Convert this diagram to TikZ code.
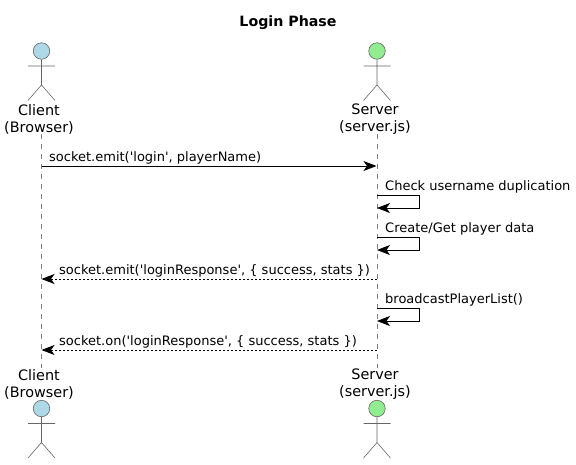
\documentclass[tikz,border=0pt]{standalone}
\usepackage{fontspec}
\setmainfont{DejaVu Sans}[Ligatures=TeXOff]
\usetikzlibrary{arrows.meta}
\definecolor{clientblue}{HTML}{ADD8E6}
\definecolor{serverGreen}{HTML}{90EE90}
\definecolor{figline}{HTML}{666666}
\definecolor{lifegray}{HTML}{808080}
\tikzset{
  actorname/.style={align=center,inner sep=0pt,font=\fontsize{14.4}{17}\selectfont},
  msgtext/.style={anchor=base west,inner sep=0pt,font=\fontsize{13}{14}\selectfont},
  msg/.style={draw=black,line width=.8pt,-{Stealth[length=13pt,width=10pt,inset=3.5pt]}},
  reply/.style={msg,dash pattern=on 2pt off 2pt,-{Stealth[length=13pt,width=10pt,inset=3.5pt,line width=.8pt]}},
  lifeline/.style={draw=lifegray,line width=.6pt,dash pattern=on 5pt off 5pt},
  pics/stickman/.style={code={
    \draw[figline,line width=.6pt] (0,8.5) -- (0,34) (-13.5,15) -- (13.5,15)
      (-13.5,49.5) -- (0,34) -- (13.5,49.5);
    \node[circle,draw=figline,fill=#1,line width=.6pt,minimum size=16.5pt,inner sep=0pt] at (0,0) {};
  }}
}
\begin{document}
\begin{tikzpicture}[x=1pt,y=-1pt]
  \useasboundingbox (0,0) rectangle (576,464);

  \node[inner sep=0pt,font=\fontsize{14.2}{16}\selectfont\bfseries] (title) at (288,23) {Login Phase};

  % top and bottom names
  \node[actorname] (client1) at (39,119) {Client\\(Browser)};
  \node[actorname] (server1) at (375,119) {Server\\(server.js)};
  \node[actorname] (client2) at (39,384) {Client\\(Browser)};
  \node[actorname] (server2) at (375,384) {Server\\(server.js)};

  % figures
  \pic at (41.5,51) {stickman=clientblue};
  \pic at (377,51) {stickman=serverGreen};
  \pic at (41.5,408.5) {stickman=clientblue};
  \pic at (377,408.5) {stickman=serverGreen};

  % lifelines
  \coordinate (ctop) at (41.5,134);
  \coordinate (cbot) at (41.5,368);
  \coordinate (stop) at (377,134);
  \coordinate (sbot) at (377,368);
  \foreach \from/\to in {ctop/cbot, stop/sbot}
    \draw[lifeline] (\from) -- (\to);

  % message ends
  \coordinate (c1) at (41.5,166);
  \coordinate (s1) at (376.5,166);
  \coordinate (s2) at (377,195);
  \coordinate (s3) at (377,208);
  \coordinate (s4) at (377,237);
  \coordinate (s5) at (377,250);
  \coordinate (s6) at (377,279);
  \coordinate (c6) at (41.5,279);
  \coordinate (s7) at (377,308);
  \coordinate (s8) at (377,321);
  \coordinate (s9) at (377,350);
  \coordinate (c9) at (41.5,350);

  \draw[msg] (c1) -- (s1);
  \foreach \from/\to in {s2/s3, s4/s5, s7/s8}
    \draw[msg] (\from) -- ++(42,0) |- (\to);
  \foreach \from/\to in {s6/c6, s9/c9}
    \draw[reply] (\from) -- (\to);

  \node[msgtext] (m1) at (49,161) {socket.emit('login', playerName)};
  \node[msgtext] (m2) at (385,190) {Check username duplication};
  \node[msgtext] (m3) at (385,232) {Create/Get player data};
  \node[msgtext] (m4) at (59,274) {socket.emit('loginResponse', \{ success, stats \})};
  \node[msgtext] (m5) at (385,303) {broadcastPlayerList()};
  \node[msgtext] (m6) at (59,345) {socket.on('loginResponse', \{ success, stats \})};
\end{tikzpicture}
\end{document}
